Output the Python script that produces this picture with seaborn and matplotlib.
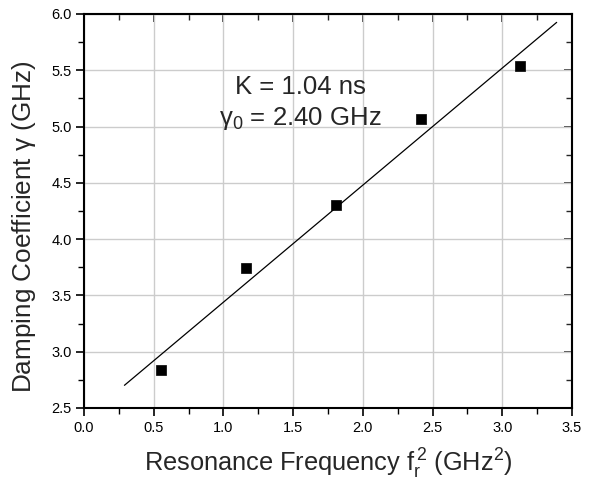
import matplotlib
matplotlib.use("Agg")
import matplotlib.pyplot as plt
import seaborn as sns
import numpy as np
import pandas as pd
from matplotlib.ticker import MultipleLocator

fr2 = [0.55, 1.16, 1.81, 2.42, 3.13]
gamma = [2.84, 3.74, 4.30, 5.07, 5.54]
K = 1.04
gamma0 = 2.40
fit_x = [0.29, 3.39]

sns.set_style("whitegrid")
plt.rcParams['font.family'] = ['Liberation Sans', 'DejaVu Sans']
plt.rcParams['mathtext.fontset'] = 'custom'
plt.rcParams['mathtext.rm'] = 'Liberation Sans'
plt.rcParams['mathtext.it'] = 'Liberation Sans:italic'

df = pd.DataFrame({"x": fr2, "y": gamma})
fit = pd.DataFrame({"x": fit_x, "y": [gamma0 + K * v for v in fit_x]})

fig = plt.figure(figsize=(5.91, 4.87), dpi=100)
ax = fig.add_axes([84/591, 1-408/487, (572-84)/591, (408-14)/487])

sns.lineplot(data=fit, x="x", y="y", ax=ax, color="black", lw=0.9)
sns.scatterplot(data=df, x="x", y="y", ax=ax, marker="s", s=55, color="black",
                edgecolor="black", linewidth=0.5, zorder=5)

ax.set_xlim(0, 3.5)
ax.set_ylim(2.5, 6.0)
ax.xaxis.set_major_locator(MultipleLocator(0.5))
ax.xaxis.set_minor_locator(MultipleLocator(0.25))
ax.yaxis.set_major_locator(MultipleLocator(0.5))
ax.yaxis.set_minor_locator(MultipleLocator(0.25))
ax.xaxis.set_major_formatter(matplotlib.ticker.FormatStrFormatter('%.1f'))
ax.yaxis.set_major_formatter(matplotlib.ticker.FormatStrFormatter('%.1f'))

ax.grid(True, which='major', color='#cccccc', lw=1.0)
ax.grid(False, which='minor')
for s in ax.spines.values():
    s.set_color('black')
    s.set_linewidth(1.5)

ax.tick_params(which='both', direction='out', bottom=True, left=True,
               top=False, right=False, labelsize=10.5, colors='black', pad=3)
ax.tick_params(which='major', length=6, width=1.2)
ax.tick_params(which='minor', length=4, width=1.0)

# mirror inward ticks on top and right
axt = ax.secondary_xaxis('top')
axt.xaxis.set_major_locator(MultipleLocator(0.5))
axt.xaxis.set_minor_locator(MultipleLocator(0.25))
axt.tick_params(which='both', direction='in', labeltop=False)
axt.tick_params(which='major', length=6, width=1.2)
axt.tick_params(which='minor', length=4, width=1.0)
axt.spines['top'].set_linewidth(1.5)
axr = ax.secondary_yaxis('right')
axr.yaxis.set_major_locator(MultipleLocator(0.5))
axr.yaxis.set_minor_locator(MultipleLocator(0.25))
axr.tick_params(which='both', direction='in', labelright=False)
axr.tick_params(which='major', length=6, width=1.2)
axr.tick_params(which='minor', length=4, width=1.0)
axr.spines['right'].set_linewidth(1.5)

ax.set_xlabel(r"Resonance Frequency $\mathregular{f_r^{\,2}}$ (GHz$\mathregular{^2}$)",
              fontsize=18.3, labelpad=9)
ax.set_ylabel(r"Damping Coefficient $\mathregular{\gamma}$ (GHz)", fontsize=18.8)
ax.yaxis.set_label_coords(-0.094, 0.461)

ax.text(1.55, 5.29, "K = 1.04 ns", fontsize=18.5, ha='center', va='baseline')
ax.text(1.55, 5.01, r"$\mathregular{\gamma_0}$ = 2.40 GHz", fontsize=18.5, ha='center', va='baseline')

fig.savefig("out.png", dpi=100)
